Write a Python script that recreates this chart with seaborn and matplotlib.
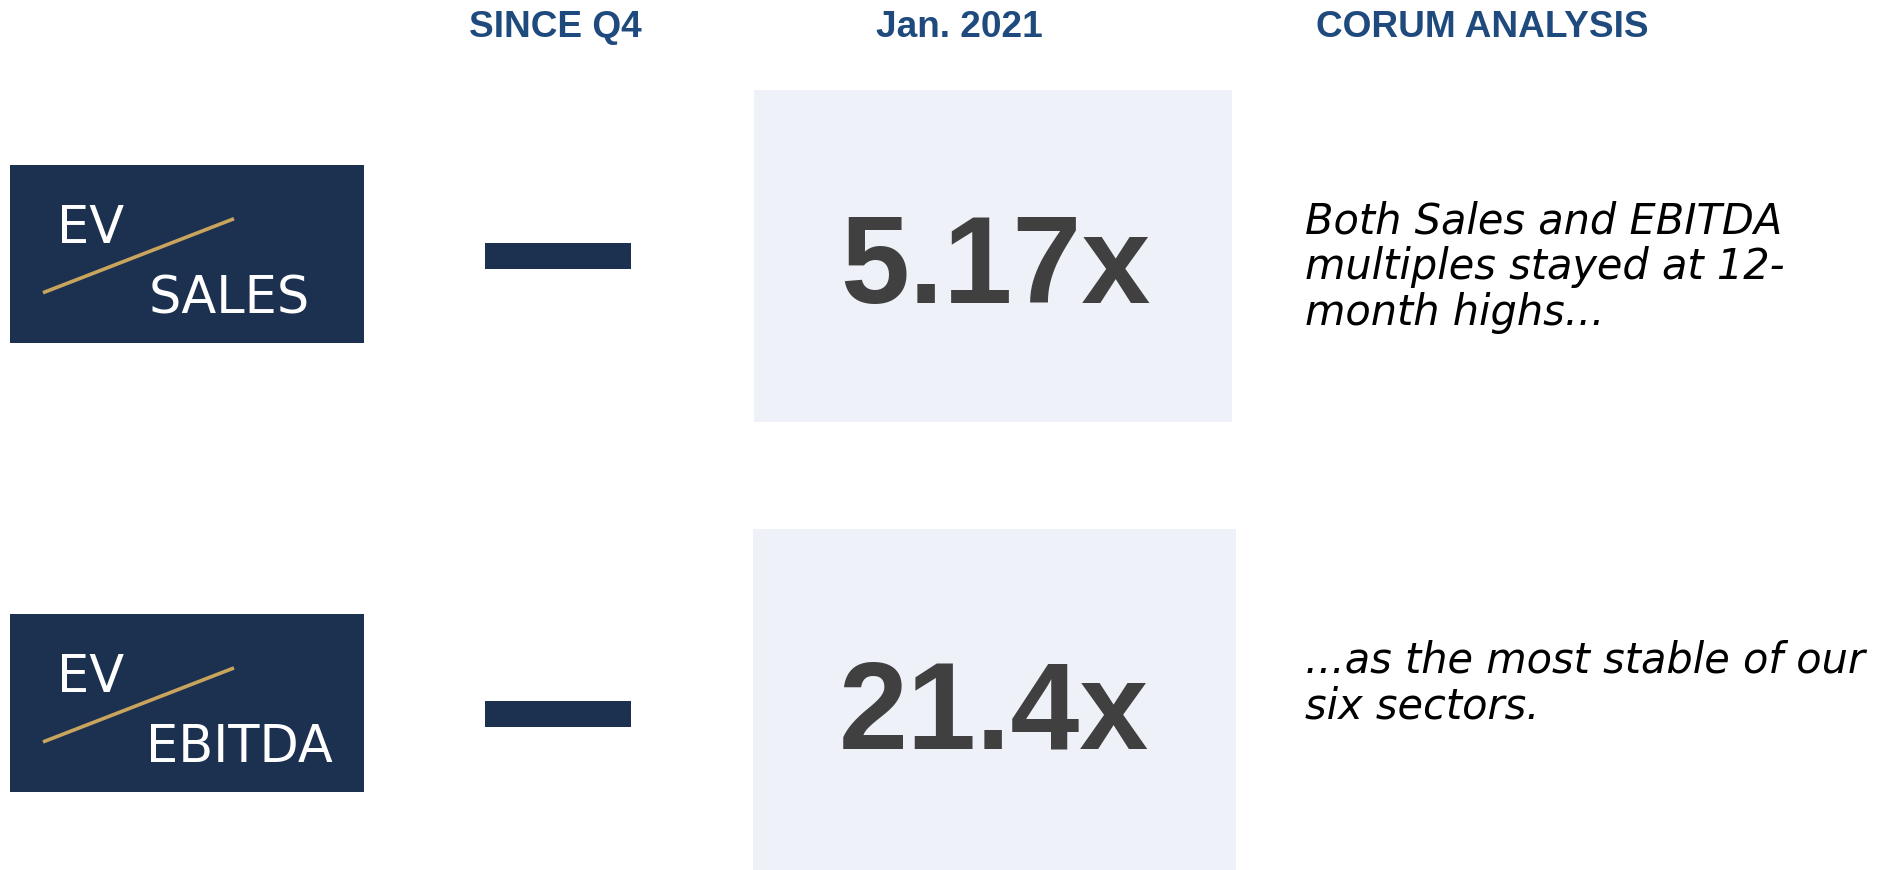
import matplotlib
matplotlib.use("Agg")
import matplotlib.pyplot as plt
import matplotlib.patches as patches
import seaborn as sns

# ===============================
# Data
# ===============================
headers = ["SINCE Q4", "Jan. 2021", "CORUM ANALYSIS"]
metrics = ["SALES", "EBITDA"]
multiples = [5.17, 21.4]
multiple_labels = ["5.17x", "21.4x"]
change_since_q4 = [0, 0]  # flat -> drawn as a dash
analysis = [
    ["Both Sales and EBITDA", "multiples stayed at 12-", "month highs..."],
    ["...as the most stable of our", "six sectors."],
]

# ===============================
# Style
# ===============================
sns.set_theme(style="white")
plt.rcParams["font.family"] = ["DejaVu Sans"]

NAVY = "#1c3150"
GOLD = "#c9a45c"
HEADER = "#1f4a7d"
PANEL = "#eef1f8"
NUM = "#404040"

W, H = 1893, 870
fig = plt.figure(figsize=(W / 100, H / 100 + 0.004), dpi=100)
ax = fig.add_axes([0, 0, 1, 1])
ax.set_xlim(0, W)
ax.set_ylim(H, 0)
ax.axis("off")

PT = 0.72  # px -> pt at 100 dpi

# headers
header_x = [469, 876, 1316]
for txt, x in zip(headers, header_x):
    ax.text(x, 37, txt, fontsize=37 * PT, fontweight="bold", color=HEADER,
            family="Liberation Sans", ha="left", va="baseline")

# row layout
row_tops = [165, 614]
panel_boxes = [(754, 90, 478, 332), (753, 529, 483, 345)]
num_baselines = [303, 748]
dash_tops = [243, 701]
text_baselines = [233, 672]

for i, metric in enumerate(metrics):
    top = row_tops[i]
    # EV / metric badge
    ax.add_patch(patches.Rectangle((10, top), 354, 178, color=NAVY, lw=0))
    ax.plot([43, 234], [top + 128, top + 54], color=GOLD, lw=2.6,
            solid_capstyle="butt")
    ax.text(57, top + 78, "EV", fontsize=51 * PT, color="white",
            fontweight="normal", ha="left", va="baseline")
    mx = 149 if len(metric) < 6 else 146
    ax.text(mx, top + 148, metric, fontsize=51 * PT, color="white",
            fontweight="normal", ha="left", va="baseline")

    # change since Q4 (no change -> dash)
    if change_since_q4[i] == 0:
        ax.add_patch(patches.Rectangle((485, dash_tops[i]), 146, 26,
                                       color=NAVY, lw=0))

    # current multiple
    x0, y0, bw, bh = panel_boxes[i]
    ax.add_patch(patches.Rectangle((x0, y0), bw, bh, color=PANEL, lw=0))
    ax.text(x0 + 241, num_baselines[i], multiple_labels[i],
            fontsize=124 * PT, fontweight="bold", color=NUM,
            family="Liberation Sans", ha="center", va="baseline")

    # analysis
    for j, line in enumerate(analysis[i]):
        ax.text(1305, text_baselines[i] + j * 46, line, fontsize=41.5 * PT,
                style="italic", color="black", ha="left", va="baseline")

fig.savefig("out.png", dpi=100)
